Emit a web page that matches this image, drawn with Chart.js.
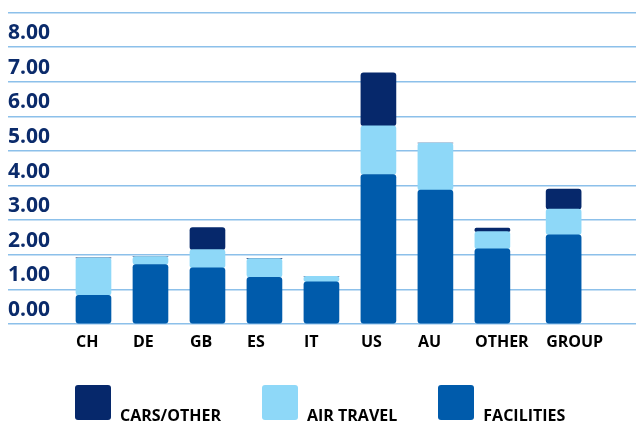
<!DOCTYPE html>
<html>
<head>
<meta charset="utf-8">
<script src="https://cdn.jsdelivr.net/npm/chart.js@4.4.1/dist/chart.umd.min.js"></script>
<style>
  body { margin: 0; background: #fff; }
  #wrap { position: relative; width: 636px; height: 424px; }
  #legend { position: absolute; left: 75px; top: 385px; display: flex; align-items: flex-end; gap: 41px;
            font: bold 16px "Open Sans", sans-serif; color: #000; }
  #legend .item { display: flex; align-items: flex-end; }
  #legend .box { width: 36px; height: 35px; border-radius: 3px; margin-right: 9px; }
  #legend .txt { line-height: 16px; position: relative; top: 3px; }
</style>
</head>
<body>
<div id="wrap">
  <canvas id="chart"></canvas>
  <div id="legend"></div>
</div>
<script>
const categories = ['CH', 'DE', 'GB', 'ES', 'IT', 'US', 'AU', 'OTHER', 'GROUP'];
const facilities = [0.83, 1.72, 1.62, 1.35, 1.22, 4.32, 3.87, 2.17, 2.58];
const airTravel  = [1.08, 0.23, 0.53, 0.54, 0.16, 1.41, 1.36, 0.50, 0.74];
const carsOther  = [0, 0, 0.64, 0, 0, 1.53, 0, 0.10, 0.58];
const yTicks = [0, 1, 2, 3, 4, 5, 6, 7, 8, 9];

// category axis with an empty slot on the left and a wider gap before GROUP
class GapCategoryScale extends Chart.CategoryScale {
    static id = 'gapCategory';
    static defaults = { ...Chart.CategoryScale.defaults, padStart: 0, padEnd: 0, gapBefore: Infinity, gapSize: 0 };
    buildTicks() {
        const ticks = super.buildTicks();
        const o = this.options;
        this._startValue -= o.padStart;
        this._valueRange += o.padStart + o.padEnd + o.gapSize;
        return ticks;
    }
    getPixelForValue(value) {
        if (typeof value !== 'number') value = this.parse(value);
        if (value === null) return NaN;
        const v = value >= this.options.gapBefore ? value + this.options.gapSize : value;
        return this.getPixelForDecimal((v - this._startValue) / this._valueRange);
    }
}
Chart.register(GapCategoryScale);

const radius = { topLeft: 3, topRight: 3, bottomLeft: 3, bottomRight: 3 };
const barStyle = { barThickness: 35, borderRadius: radius, borderSkipped: false, borderWidth: 0 };

const chart = new Chart(document.getElementById('chart').getContext('2d'), {
    type: 'bar',
    data: {
        labels: categories,
        datasets: [
            { label: 'FACILITIES', data: facilities, backgroundColor: '#005bab', ...barStyle },
            { label: 'AIR TRAVEL', data: airTravel, backgroundColor: '#8ed8f8', ...barStyle },
            { label: 'CARS/OTHER', data: carsOther, backgroundColor: '#06286b', ...barStyle }
        ]
    },
    options: {
        responsive: true,
        maintainAspectRatio: false,
        animation: false,
        layout: { padding: { left: 8, top: 10, right: 0, bottom: 0 } },
        scales: {
            x: {
                type: 'gapCategory',
                stacked: true,
                padStart: 1,
                padEnd: 0.77,
                gapBefore: categories.indexOf('GROUP'),
                gapSize: 0.25,
                grid: { display: false, drawTicks: false },
                border: { display: false },
                ticks: {
                    autoSkip: false, maxRotation: 0, align: 'start', labelOffset: -17.5, padding: 9,
                    color: '#000', font: { family: 'Open Sans', weight: 'bold', size: 16 }
                },
                afterFit: s => { s.height = 100; }
            },
            y: {
                stacked: true,
                min: 0,
                max: 9,
                afterBuildTicks: s => { s.ticks = yTicks.map(v => ({ value: v })); },
                grid: { color: '#8cc0ea', lineWidth: 1.5, drawTicks: false },
                border: { display: false },
                ticks: {
                    mirror: true, padding: 0, labelOffset: -14,
                    color: '#0b2b6b', font: { family: 'Open Sans', weight: 'bold', size: 21 },
                    callback: v => v === 9 ? '' : v.toFixed(2)
                }
            }
        },
        plugins: { legend: { display: false }, tooltip: { enabled: false } }
    }
});

// html legend, top series first
const legend = document.getElementById('legend');
chart.data.datasets.slice().reverse().forEach(ds => {
    const item = document.createElement('div');
    item.className = 'item';
    item.innerHTML = '<span class="box" style="background:' + ds.backgroundColor + '"></span><span class="txt">' + ds.label + '</span>';
    legend.appendChild(item);
});
</script>
</body>
</html>
